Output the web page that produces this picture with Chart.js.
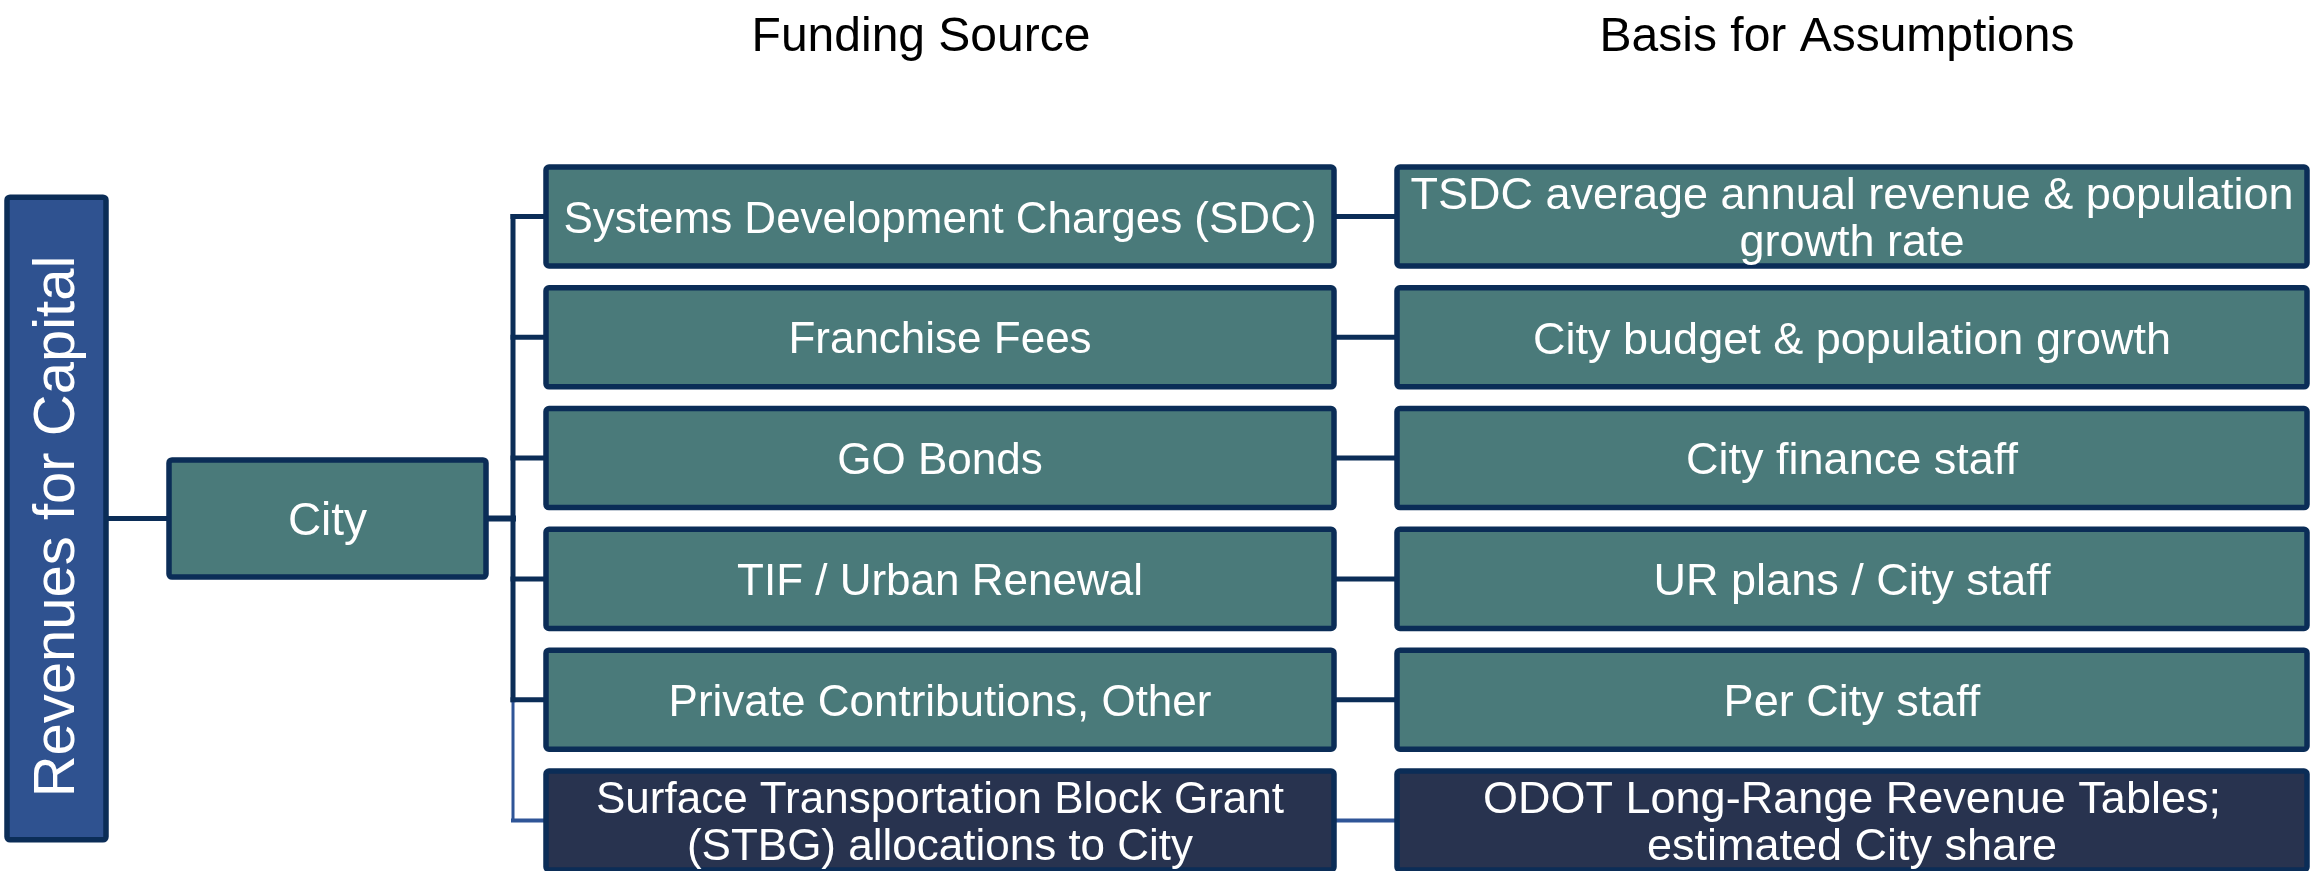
<!DOCTYPE html>
<html>
<head>
<meta charset="utf-8">
<script src="https://cdn.jsdelivr.net/npm/chart.js@4.4.0/dist/chart.umd.min.js"></script>
<style>
  html, body { margin: 0; padding: 0; background: #fff; }
  #wrap { width: 2310px; height: 871px; }
</style>
</head>
<body>
<div id="wrap"><canvas id="diagram"></canvas></div>
<script>
// diagram content
const headings = ['Funding Source', 'Basis for Assumptions'];
const rootLabel = 'Revenues for Capital';
const branchLabel = 'City';
const sources = [
    ['Systems Development Charges (SDC)'],
    ['Franchise Fees'],
    ['GO Bonds'],
    ['TIF / Urban Renewal'],
    ['Private Contributions, Other'],
    ['Surface Transportation Block Grant', '(STBG) allocations to City']
];
const bases = [
    ['TSDC average annual revenue & population', 'growth rate'],
    ['City budget & population growth'],
    ['City finance staff'],
    ['UR plans / City staff'],
    ['Per City staff'],
    ['ODOT Long-Range Revenue Tables;', 'estimated City share']
];
const sourceKind = ['local', 'local', 'local', 'local', 'local', 'federal'];

// layout: x in horizontal units, y in row units (row i = funding source i)
const col = {
    root: [7, 106],
    branch: [169, 486],
    trunk: 513,
    source: [546, 1334],
    basis: [1397, 2307]
};
const headingX = [921, 1837];
const headingRow = -1.51;
const branchRow = 2.5;
const rowHalf = 0.41;
const branchHalf = 0.485;
const rootHalf = 2.66;

const colors = {
    teal: '#4A7A7A',
    navy: '#28334F',
    root: '#2F5290',
    border: '#0B2D57',
    grantLine: '#2F5597',
    text: '#FFFFFF'
};
const FONT = '"Liberation Sans", Arial, sans-serif';

function seg(x0, y0, x1, y1, color, width) {
    return {
        data: [{ x: x0, y: y0 }, { x: x1, y: y1 }],
        showLine: true,
        borderColor: color,
        borderWidth: width,
        pointRadius: 0,
        borderCapStyle: 'square'
    };
}

const lines = [];
lines.push(seg(col.root[1], branchRow, col.branch[0], branchRow, colors.border, 5));
lines.push(seg(col.branch[1], branchRow, col.trunk, branchRow, colors.border, 6));
const lastLocal = sourceKind.lastIndexOf('local');
lines.push(seg(col.trunk, 0, col.trunk, lastLocal, colors.border, 5));
lines.push(seg(col.trunk, lastLocal, col.trunk, sources.length - 1, colors.grantLine, 3));
sources.forEach((s, i) => {
    const c = sourceKind[i] === 'local' ? colors.border : colors.grantLine;
    const w = sourceKind[i] === 'local' ? 5 : 4;
    lines.push(seg(col.trunk, i, col.source[0], i, c, w));
    lines.push(seg(col.source[1], i, col.basis[0], i, c, w));
});

function drawBox(ctx, xs, ys, x0, x1, r0, r1, fill) {
    const left = xs.getPixelForValue(x0), right = xs.getPixelForValue(x1);
    const top = ys.getPixelForValue(r0), bottom = ys.getPixelForValue(r1);
    ctx.beginPath();
    ctx.roundRect(left, top, right - left, bottom - top, 3);
    ctx.fillStyle = fill;
    ctx.fill();
    ctx.lineWidth = 5.5;
    ctx.strokeStyle = colors.border;
    ctx.stroke();
}

function drawLines(ctx, textLines, cx, cy, size, color) {
    ctx.font = size + 'px ' + FONT;
    ctx.fillStyle = color;
    ctx.textAlign = 'center';
    ctx.textBaseline = 'middle';
    const lh = 47;
    textLines.forEach((t, k) => {
        ctx.fillText(t, cx, cy + 4 + (k - (textLines.length - 1) / 2) * lh);
    });
}

const boxesPlugin = {
    id: 'boxes',
    afterDatasetsDraw(chart) {
        const ctx = chart.ctx;
        const xs = chart.scales.x, ys = chart.scales.y;
        ctx.save();

        // column headings
        headings.forEach((h, i) => {
            drawLines(ctx, [h], xs.getPixelForValue(headingX[i]), ys.getPixelForValue(headingRow), 48, '#000');
        });

        // root box with rotated label
        drawBox(ctx, xs, ys, col.root[0], col.root[1], branchRow - rootHalf, branchRow + rootHalf, colors.root);
        ctx.save();
        ctx.translate(xs.getPixelForValue((col.root[0] + col.root[1]) / 2), ys.getPixelForValue(branchRow));
        ctx.rotate(-Math.PI / 2);
        drawLines(ctx, [rootLabel], -8, -3, 58, colors.text);
        ctx.restore();

        // branch box
        drawBox(ctx, xs, ys, col.branch[0], col.branch[1], branchRow - branchHalf, branchRow + branchHalf, colors.teal);
        drawLines(ctx, [branchLabel], xs.getPixelForValue((col.branch[0] + col.branch[1]) / 2), ys.getPixelForValue(branchRow), 46, colors.text);

        // funding sources and their basis
        sources.forEach((s, i) => {
            const fill = sourceKind[i] === 'local' ? colors.teal : colors.navy;
            drawBox(ctx, xs, ys, col.source[0], col.source[1], i - rowHalf, i + rowHalf, fill);
            drawLines(ctx, s, xs.getPixelForValue((col.source[0] + col.source[1]) / 2), ys.getPixelForValue(i), 44, colors.text);
            drawBox(ctx, xs, ys, col.basis[0], col.basis[1], i - rowHalf, i + rowHalf, fill);
            drawLines(ctx, bases[i], xs.getPixelForValue((col.basis[0] + col.basis[1]) / 2), ys.getPixelForValue(i), 45, colors.text);
        });
        ctx.restore();
    }
};

new Chart(document.getElementById('diagram').getContext('2d'), {
    type: 'scatter',
    data: { datasets: lines },
    options: {
        responsive: true,
        maintainAspectRatio: false,
        animation: false,
        layout: { padding: 0 },
        plugins: { legend: { display: false }, tooltip: { enabled: false } },
        scales: {
            x: { type: 'linear', min: 0, max: 2310, display: false },
            y: { type: 'linear', min: -1.792, max: 5.418, reverse: true, display: false }
        }
    },
    plugins: [boxesPlugin]
});
</script>
</body>
</html>
